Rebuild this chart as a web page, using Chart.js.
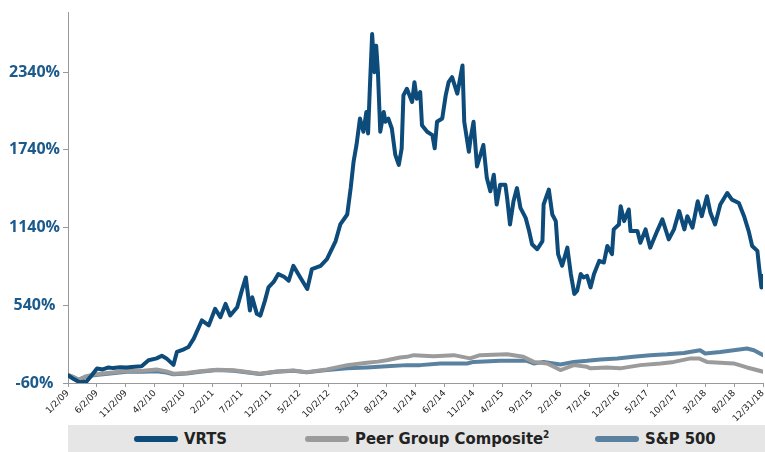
<!DOCTYPE html>
<html>
<head>
<meta charset="utf-8">
<script src="https://cdn.jsdelivr.net/npm/chart.js@4/dist/chart.umd.min.js"></script>
<style>
  body { margin: 0; background: #fff; }
  #wrap { position: relative; width: 765px; height: 452px; }
  #chartBox { position: absolute; left: 0; top: 0; width: 765px; height: 425px; }
  #legend {
    position: absolute; left: 68px; top: 425px; width: 697px; height: 27px;
    background: #e6e6e6;
    font-family: 'Liberation Sans Narrow', 'DejaVu Sans Condensed', sans-serif;
    font-weight: bold; font-size: 16.5px; color: #222;
  }
  .item { position: absolute; top: 0; height: 27px; line-height: 27px; white-space: nowrap; }
  .swatch { display: inline-block; width: 44px; height: 6px; border-radius: 3px; vertical-align: middle; margin-right: 6px; margin-top: -2px; }
  sup { font-size: 10px; vertical-align: 6px; line-height: 0; }
</style>
</head>
<body>
<div id="wrap">
  <div id="chartBox"><canvas id="perfChart"></canvas></div>
  <div id="legend"></div>
</div>
<script>
// months since 1/2/09
const vrtsMonths = [0, 1.0, 2.0, 3.2, 4.1, 5.0, 6.0, 7.0, 7.8, 9.0, 10.1, 11.5, 12.7, 13.9, 15.3, 16.2, 17.0, 18.2, 18.8, 20.0,
  20.8, 21.7, 23.1, 24.3, 25.4, 26.3, 27.2, 28.0, 29.2, 30.0, 30.7, 31.4, 31.8, 32.6, 33.2, 34.0, 34.6, 35.5, 36.3, 37.3,
  38.1, 38.9, 40.1, 41.3, 42.1, 43.6, 44.7, 46.2, 47.0, 48.2, 48.8, 49.3, 49.8, 50.4, 51.0, 51.5, 51.8, 52.1, 52.5, 52.9,
  53.2, 53.5, 53.9, 54.5, 54.8, 55.3, 55.9, 56.5, 57.1, 57.6, 57.9, 58.5, 59.4, 59.8, 60.2, 60.8, 61.1, 62.0, 62.9, 63.3,
  63.7, 64.6, 65.2, 65.7, 66.3, 67.2, 68.1, 68.4, 69.2, 69.5, 70.0, 70.6, 71.7, 72.3, 72.9, 73.5, 74.0, 74.6, 75.5, 75.8,
  76.3, 76.9, 77.5, 78.1, 79.0, 79.6, 80.1, 81.0, 81.9, 82.1, 83.0, 83.6, 84.2, 84.6, 85.3, 86.2, 86.8, 87.4, 87.9, 88.5,
  89.0, 89.6, 90.2, 90.8, 91.7, 92.5, 93.1, 93.9, 94.2, 95.1, 95.4, 96.0, 96.8, 97.1, 98.3, 98.8, 99.7, 100.5, 101.7, 102.6,
  103.7, 104.6, 105.5, 106.4, 106.9, 107.8, 108.7, 109.4, 110.3, 110.9, 111.7, 112.6, 113.8, 114.6, 115.8, 116.7, 117.5, 118.1, 119.0, 119.3,
  119.7, 120.0];
const vrtsValues = [0, -30, -55, -48, 0, 52, 45, 60, 55, 62, 60, 65, 70, 116, 130, 150, 130, 80, 180, 200,
  218, 283, 423, 385, 513, 448, 551, 461, 525, 653, 755, 500, 602, 474, 460, 576, 678, 720, 781, 760,
  730, 845, 755, 666, 820, 845, 896, 1036, 1164, 1241, 1445, 1650, 1778, 1982, 1880, 2033, 1867, 2212, 2634, 2340,
  2545, 2340, 1880, 2033, 1957, 1982, 1905, 1701, 1624, 1752, 2161, 2212, 2110, 2263, 2135, 2187, 1931, 1880, 1854, 1752,
  1957, 1982, 2161, 2263, 2302, 2174, 2392, 1957, 1726, 1829, 1957, 1612, 1778, 1522, 1420, 1548, 1318, 1471, 1471, 1369,
  1164, 1343, 1445, 1292, 1215, 1113, 1011, 973, 1036, 1318, 1433, 1241, 1190, 935, 845, 985, 781, 628, 653, 781,
  755, 768, 678, 781, 883, 870, 998, 935, 1126, 1164, 1305, 1190, 1280, 1113, 1113, 1023, 1126, 985, 1113, 1203,
  1049, 1126, 1267, 1126, 1228, 1139, 1343, 1228, 1382, 1254, 1164, 1318, 1407, 1356, 1330, 1228, 1113, 998, 960, 832,
  678, 768];

const peerMonths = [0, 1.0, 1.8, 3.0, 4.4, 7.3, 10.1, 13.0, 15.3, 17.0, 18.2, 20.5, 22.8, 25.7, 28.6, 30.0, 33.1, 36.0, 38.9, 41.2,
  44.7, 48.2, 51.6, 53.5, 55.0, 57.3, 58.5, 59.7, 63.1, 66.6, 69.4, 71.1, 74.6, 75.8, 78.6, 80.4, 82.7, 85.0, 87.3, 89.6,
  90.2, 93.0, 95.3, 98.8, 102.3, 104.6, 107.5, 108.9, 110.3, 112.6, 114.9, 117.2, 120.0];
const peerValues = [0, -15, -35, -10, 5, 20, 33, 35, 45, 30, 12, 18, 30, 42, 38, 30, 12, 28, 36, 24,
  45, 78, 96, 105, 116, 137, 142, 155, 147, 155, 130, 155, 160, 162, 142, 103, 91, 40, 78, 65,
  53, 60, 53, 78, 91, 103, 130, 130, 103, 96, 91, 60, 27];

const spMonths = [0, 1.0, 1.8, 3.0, 4.4, 7.3, 10.1, 13.0, 15.3, 17.0, 18.2, 20.5, 22.8, 25.7, 28.6, 30.0, 33.1, 36.0, 38.9, 41.2,
  44.7, 48.2, 51.6, 55.0, 58.5, 60.8, 64.3, 68.9, 70.0, 74.6, 79.2, 80.4, 82.1, 85.0, 87.3, 89.6, 91.9, 94.8, 97.6, 100.5,
  103.4, 106.3, 109.1, 110.0, 112.6, 114.9, 117.2, 118.4, 120.0];
const spValues = [0, -15, -35, -15, 0, 14, 27, 27, 30, 20, 7, 14, 27, 40, 35, 27, 9, 27, 35, 22,
  40, 53, 60, 70, 78, 78, 91, 91, 103, 111, 111, 91, 103, 83, 103, 111, 122, 130, 142, 155,
  162, 172, 193, 168, 180, 193, 206, 193, 155];

const tickMonths = [0, 5, 10, 15, 20, 25, 30, 35, 40, 45, 50, 55, 60, 65, 70, 75, 80, 85, 90, 95, 100, 105, 110, 115, 119.97];
const tickLabels = ['1/2/09', '6/2/09', '11/2/09', '4/2/10', '9/2/10', '2/2/11', '7/2/11', '12/2/11', '5/2/12', '10/2/12',
  '3/2/13', '8/2/13', '1/2/14', '6/2/14', '11/2/14', '4/2/15', '9/2/15', '2/2/16', '7/2/16', '12/2/16', '5/2/17', '10/2/17',
  '3/2/18', '8/2/18', '12/31/18'];
const yTicks = [-60, 540, 1140, 1740, 2340];

const seriesNames = ['VRTS', 'Peer Group Composite', 'S&P 500'];
const seriesColors = ['#0d4b7b', '#9b9b9b', '#5a82a0'];

function toPoints(xs, ys) {
  return xs.map((x, i) => ({ x: x, y: ys[i] }));
}

const ctx = document.getElementById('perfChart');
new Chart(ctx, {
  type: 'line',
  data: {
    datasets: [
      { label: seriesNames[0], data: toPoints(vrtsMonths, vrtsValues), borderColor: seriesColors[0], borderWidth: 4 },
      { label: seriesNames[1], data: toPoints(peerMonths, peerValues), borderColor: seriesColors[1], borderWidth: 4 },
      { label: seriesNames[2], data: toPoints(spMonths, spValues), borderColor: seriesColors[2], borderWidth: 4 },
    ],
  },
  options: {
    responsive: true,
    maintainAspectRatio: false,
    animation: false,
    layout: { padding: { top: 11, right: 2, left: 0, bottom: 0 } },
    elements: { point: { radius: 0 }, line: { tension: 0, borderJoinStyle: 'round', borderCapStyle: 'round' } },
    plugins: { legend: { display: false }, tooltip: { enabled: false } },
    scales: {
      x: {
        type: 'linear',
        min: 0,
        max: 119.97,
        afterBuildTicks: (scale) => { scale.ticks = tickMonths.map((v) => ({ value: v })); },
        afterFit: (scale) => { scale.height = 42; scale.paddingLeft = 0; scale.paddingRight = 0; },
        ticks: {
          autoSkip: false,
          minRotation: 45,
          maxRotation: 45,
          padding: 1,
          color: '#222',
          font: { family: 'DejaVu Sans', size: 9 },
          callback: (value, index) => tickLabels[index],
        },
        grid: { drawOnChartArea: false, drawTicks: true, tickLength: 4, color: '#999' },
        border: { color: '#999', width: 1 },
      },
      y: {
        min: -60,
        max: 2800,
        afterBuildTicks: (scale) => { scale.ticks = yTicks.map((v) => ({ value: v })); },
        afterFit: (scale) => { scale.width = 68; },
        ticks: {
          crossAlign: 'center',
          padding: 3,
          color: '#1c5a8c',
          font: { family: 'Open Sans', size: 16, weight: 'bold' },
          callback: (value) => value + '%',
        },
        grid: { drawOnChartArea: false, drawTicks: true, tickLength: 5, color: '#999' },
        border: { color: '#999', width: 1 },
      },
    },
  },
});

// legend band
const legendEl = document.getElementById('legend');
const legendLeft = [66, 237, 527];
seriesNames.forEach((name, i) => {
  const item = document.createElement('div');
  item.className = 'item';
  item.style.left = legendLeft[i] + 'px';
  const sw = document.createElement('span');
  sw.className = 'swatch';
  sw.style.background = seriesColors[i];
  item.appendChild(sw);
  const label = document.createElement('span');
  label.textContent = name;
  item.appendChild(label);
  if (i === 1) {
    const s = document.createElement('sup');
    s.textContent = '2';
    item.appendChild(s);
  }
  legendEl.appendChild(item);
});
</script>
</body>
</html>
